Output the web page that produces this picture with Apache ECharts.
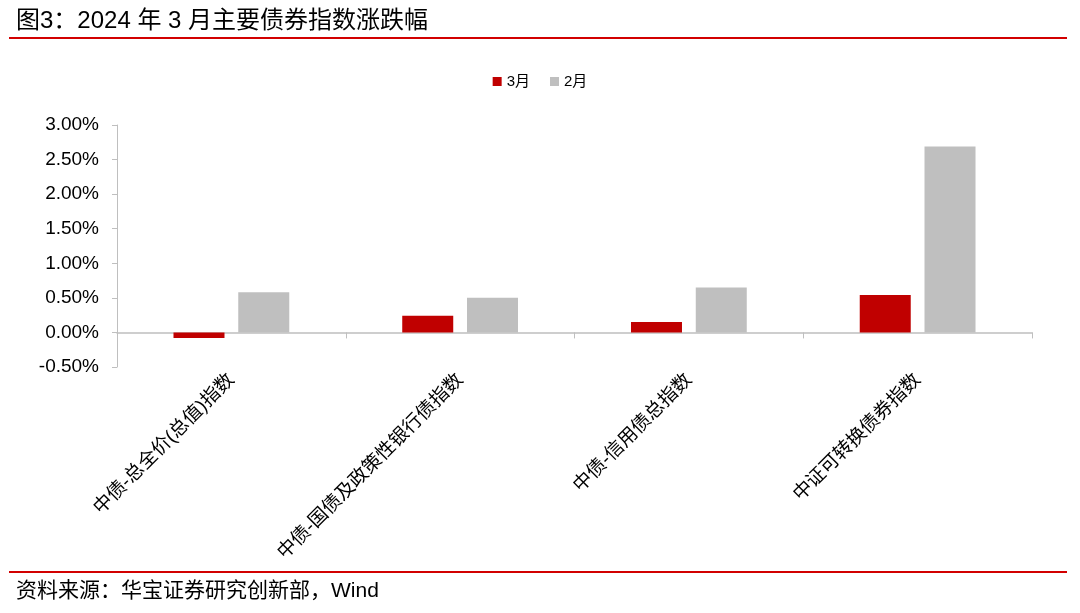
<!DOCTYPE html>
<html>
<head>
<meta charset="utf-8">
<script src="https://cdn.jsdelivr.net/npm/echarts@6/dist/echarts.min.js"></script>
<style>
html,body{margin:0;padding:0;background:#fff;}
#c{width:1080px;height:613px;}
</style>
</head>
<body>
<div id="c"></div>
<script>
const categories = ['中债-总全价(总值)指数', '中债-国债及政策性银行债指数', '中债-信用债总指数', '中证可转换债券指数'];
const march = [-0.08, 0.24, 0.15, 0.54];
const february = [0.58, 0.50, 0.65, 2.69];
const yTicks = { min: -0.5, max: 3.0, interval: 0.5 };
const titleText = '图3：2024 年 3 月主要债券指数涨跌幅';
const sourceText = '资料来源：华宝证券研究创新部，Wind';

const chart = echarts.init(document.getElementById('c'));
const fontCN = '"Liberation Sans", "Noto Sans CJK SC", sans-serif';
chart.setOption({
  animation: false,
  backgroundColor: '#fff',
  title: [
    { text: titleText, left: 11, top: 4, textStyle: { fontFamily: fontCN, fontSize: 24, fontWeight: 'normal', color: '#000' } },
    { text: sourceText, left: 11, top: 576, textStyle: { fontFamily: fontCN, fontSize: 21, fontWeight: 'normal', color: '#000' } }
  ],
  graphic: [
    { type: 'rect', shape: { x: 9, y: 37, width: 1058, height: 2 }, style: { fill: '#d20000' } },
    { type: 'rect', shape: { x: 9, y: 571, width: 1058, height: 2 }, style: { fill: '#d20000' } }
  ],
  legend: {
    top: 69, left: 'center',
    itemWidth: 9, itemHeight: 9, itemGap: 20,
    icon: 'rect',
    textStyle: { fontFamily: fontCN, fontSize: 15, color: '#000' },
    data: ['3月', '2月']
  },
  grid: { left: 117, right: 48, top: 125, bottom: 246 },
  xAxis: {
    type: 'category',
    data: categories,
    axisLine: { onZero: true, lineStyle: { color: '#bfbfbf', width: 1.5 } },
    axisTick: { show: true, length: 6, lineStyle: { color: '#bfbfbf' } },
    axisLabel: { rotate: 45, interval: 0, margin: 10, fontFamily: fontCN, fontSize: 19, color: '#000' }
  },
  yAxis: {
    type: 'value',
    min: yTicks.min, max: yTicks.max, interval: yTicks.interval,
    axisLine: { show: true, lineStyle: { color: '#bfbfbf' } },
    axisTick: { show: true, length: 5, lineStyle: { color: '#bfbfbf' } },
    splitLine: { show: false },
    axisLabel: { margin: 18, fontFamily: fontCN, fontSize: 19, color: '#000', formatter: v => v.toFixed(2) + '%' }
  },
  series: [
    { name: '3月', type: 'bar', data: march, barWidth: 51, barGap: '27%', itemStyle: { color: '#c00000' } },
    { name: '2月', type: 'bar', data: february, barWidth: 51, barGap: '27%', itemStyle: { color: '#bfbfbf' } }
  ]
});
</script>
</body>
</html>
